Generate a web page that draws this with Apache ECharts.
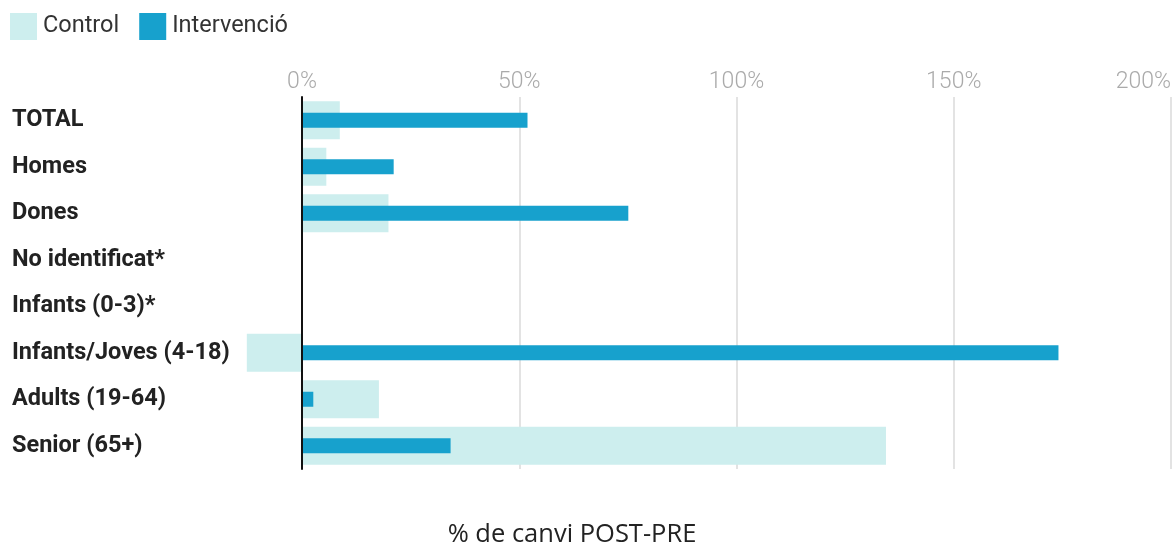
<!DOCTYPE html>
<html>
<head>
<meta charset="utf-8">
<script src="https://cdn.jsdelivr.net/npm/echarts@6/dist/echarts.min.js"></script>
<style>html,body{margin:0;padding:0;background:#fff;}#c{width:1174px;height:546px;}</style>
</head>
<body>
<div id="c"></div>
<script>
const categories = ['TOTAL', 'Homes', 'Dones', 'No identificat*', 'Infants (0-3)*', 'Infants/Joves (4-18)', 'Adults (19-64)', 'Senior (65+)'];
const controlValues = [8.7, 5.6, 19.9, null, null, -12.7, 17.7, 134.4];
const intervencioValues = [51.9, 21.1, 75.1, null, null, 174.1, 2.6, 34.2];
const xTicks = [0, 50, 100, 150, 200];
const axisTitle = '% de canvi POST-PRE';

const chart = echarts.init(document.getElementById('c'));
chart.setOption({
  animation: false,
  backgroundColor: '#fff',
  textStyle: { fontFamily: 'Roboto' },
  legend: {
    left: 5, top: 8,
    itemWidth: 27, itemHeight: 27, itemGap: 20,
    icon: 'rect',
    textStyle: { fontSize: 23.5, color: '#333', fontFamily: 'Roboto', padding: [0, 0, 0, 1] },
    data: ['Control', 'Intervenció']
  },
  grid: { left: 302, right: 1, top: 97, bottom: 77, containLabel: false },
  xAxis: {
    type: 'value', position: 'top',
    min: xTicks[0], max: xTicks[xTicks.length - 1], interval: xTicks[1] - xTicks[0],
    axisLine: { show: false }, axisTick: { show: false },
    axisLabel: { formatter: '{value}%', color: '#aaa', fontSize: 23, fontFamily: 'Roboto', fontWeight: 300, margin: 3, alignMaxLabel: 'right' },
    splitLine: { show: true, lineStyle: { color: '#e3e3e3', width: 2 } }
  },
  yAxis: [
    {
      type: 'category', inverse: true, data: categories, z: 10,
      axisLine: { show: true, lineStyle: { color: '#111', width: 2 } },
      axisTick: { show: false },
      axisLabel: { align: 'left', margin: 290, fontSize: 23.5, fontWeight: 'bold', color: '#222', fontFamily: 'Roboto' }
    },
    {
      type: 'category', inverse: true, data: categories, show: false, position: 'left'
    }
  ],
  series: [
    {
      name: 'Control', type: 'bar', yAxisIndex: 0, data: controlValues,
      barWidth: 38, clip: false, itemStyle: { color: '#cdeeee' }, z: 2
    },
    {
      name: 'Intervenció', type: 'bar', yAxisIndex: 1, data: intervencioValues,
      barWidth: 15, itemStyle: { color: '#17a1cd' }, z: 3
    }
  ],
  graphic: [{
    type: 'text', x: 572, y: 535,
    style: { text: axisTitle, textAlign: 'center', textVerticalAlign: 'middle', fontSize: 25.5, fontFamily: 'Open Sans', fill: '#222' }
  }]
});
</script>
</body>
</html>
